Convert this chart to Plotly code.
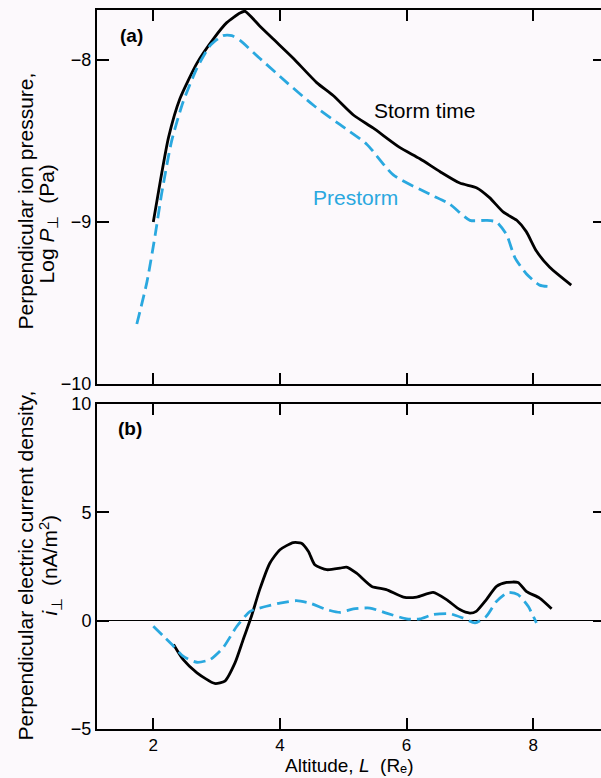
import plotly.graph_objects as go

# (a) perpendicular ion pressure, log10 P (Pa), versus L
storm_a_L = [2.0, 2.11, 2.24, 2.42, 2.69, 2.95, 3.16, 3.37, 3.45, 3.68, 3.89, 4.21, 4.58, 4.84,
             5.16, 5.47, 5.89, 6.21, 6.53, 6.84, 7.11, 7.31, 7.53, 7.74, 7.89, 8.05, 8.26, 8.6]
storm_a_logP = [-9.0, -8.75, -8.48, -8.24, -8.02, -7.87, -7.77, -7.71, -7.70, -7.79, -7.87, -7.99,
                -8.14, -8.22, -8.34, -8.42, -8.54, -8.61, -8.69, -8.76, -8.79, -8.85, -8.94, -8.99,
                -9.06, -9.18, -9.28, -9.39]
pre_a_L = [1.74, 1.9, 2.03, 2.13, 2.29, 2.47, 2.69, 2.9, 3.1, 3.24, 3.37, 3.68, 4.11, 4.53, 4.95,
           5.37, 5.79, 6.37, 6.68, 7.0, 7.26, 7.42, 7.58, 7.71, 7.89, 8.1, 8.29]
pre_a_logP = [-9.63, -9.37, -9.08, -8.83, -8.50, -8.26, -8.05, -7.91, -7.85, -7.85, -7.88, -7.99,
              -8.14, -8.28, -8.40, -8.52, -8.71, -8.83, -8.89, -8.99, -8.99, -9.0, -9.08, -9.22,
              -9.32, -9.39, -9.40]

# (b) perpendicular electric current density (nA/m^2) versus L
storm_b_L = [2.32, 2.47, 2.69, 2.97, 3.13, 3.29, 3.42, 3.55, 3.68, 3.84, 4.0, 4.21, 4.34, 4.45,
             4.55, 4.74, 4.95, 5.05, 5.21, 5.45, 5.68, 5.95, 6.16, 6.42, 6.63, 6.84, 7.0, 7.10,
             7.26, 7.42, 7.58, 7.76, 7.89, 8.10, 8.29]
storm_b_i = [-1.10, -1.79, -2.41, -2.90, -2.79, -1.95, -0.87, 0.2, 1.43, 2.65, 3.27, 3.60, 3.57,
             3.19, 2.58, 2.35, 2.42, 2.47, 2.19, 1.58, 1.43, 1.09, 1.09, 1.30, 0.97, 0.51, 0.35,
             0.43, 0.97, 1.58, 1.76, 1.76, 1.35, 1.04, 0.55]
pre_b_L = [2.0, 2.16, 2.32, 2.47, 2.69, 2.9, 3.1, 3.32, 3.53, 3.74, 4.0, 4.26, 4.47, 4.74, 4.95,
           5.16, 5.42, 5.68, 6.0, 6.21, 6.42, 6.68, 6.89, 7.08, 7.26, 7.42, 7.60, 7.76, 7.92, 8.05]
pre_b_i = [-0.26, -0.72, -1.18, -1.64, -1.92, -1.79, -1.26, -0.26, 0.43, 0.63, 0.81, 0.92, 0.81,
           0.51, 0.38, 0.54, 0.58, 0.35, 0.08, 0.08, 0.28, 0.32, 0.12, -0.1, 0.2, 0.89, 1.30,
           1.20, 0.66, -0.1]

x_ticks = [2, 4, 6, 8]
ya_ticks = [-10, -9, -8]
yb_ticks = [-5, 0, 5, 10]

BLUE = "#2aa8df"
BG = "#fcf9fc"
FONT = "Liberation Sans, Arial, sans-serif"

W, H = 601, 778
L_M, R_M, T_M, B_M = 97, 0, 8, 49
PH = H - T_M - B_M
XR = [1.111, 9.07]
YA = [-10.0, -7.692]
YB = [-5.0, 10.0]

fig = go.Figure()

storm_line = dict(color="black", width=2.8, shape="spline", smoothing=0.6)
pre_line = dict(color=BLUE, width=2.8, dash="12px,6px", shape="spline", smoothing=0.6)

fig.add_trace(go.Scatter(x=storm_a_L, y=storm_a_logP, mode="lines", line=storm_line,
                         xaxis="x", yaxis="y", showlegend=False))
fig.add_trace(go.Scatter(x=pre_a_L, y=pre_a_logP, mode="lines", line=pre_line,
                         xaxis="x", yaxis="y", showlegend=False))
fig.add_trace(go.Scatter(x=storm_b_L, y=storm_b_i, mode="lines", line=storm_line,
                         xaxis="x2", yaxis="y2", showlegend=False))
fig.add_trace(go.Scatter(x=pre_b_L, y=pre_b_i, mode="lines", line=pre_line,
                         xaxis="x2", yaxis="y2", showlegend=False))

dom_a = [(H - B_M - 383) / PH, 1.0]
dom_b = [0.0, (H - B_M - 403) / PH]

xcommon = dict(range=XR, tickvals=x_ticks, ticks="inside", ticklen=11, tickwidth=1.5,
               tickcolor="black", showline=True, linecolor="black", linewidth=2,
               mirror="ticks", showgrid=False, zeroline=False, domain=[0, 1],
               tickfont=dict(family=FONT, size=17, color="black"))
ycommon = dict(ticks="inside", ticklen=12, tickwidth=1.5, tickcolor="black", showline=True,
               linecolor="black", linewidth=2, showgrid=False,
               tickfont=dict(family=FONT, size=18, color="black"))

fig.update_layout(
    width=W, height=H,
    margin=dict(l=L_M, r=R_M, t=T_M, b=B_M),
    paper_bgcolor=BG, plot_bgcolor=BG,
    xaxis=dict(**xcommon, anchor="y", showticklabels=False),
    yaxis=dict(**ycommon, range=YA, tickvals=ya_ticks, domain=dom_a, anchor="x",
               zeroline=False),
    xaxis2=dict(**xcommon, anchor="y2", showticklabels=True),
    yaxis2=dict(**ycommon, range=YB, tickvals=yb_ticks, domain=dom_b, anchor="x2",
                zeroline=True, zerolinecolor="black", zerolinewidth=1.3),
    # right-hand tick marks of both panels
    yaxis3=dict(range=YA, tickvals=ya_ticks, domain=dom_a, anchor="x", overlaying="y",
                side="right", ticks="inside", ticklen=8, tickwidth=1.5, tickcolor="black",
                showticklabels=False, showline=False, showgrid=False, zeroline=False),
    yaxis4=dict(range=YB, tickvals=yb_ticks, domain=dom_b, anchor="x2", overlaying="y2",
                side="right", ticks="inside", ticklen=8, tickwidth=1.5, tickcolor="black",
                showticklabels=False, showline=False, showgrid=False, zeroline=False),
)

fig.add_trace(go.Scatter(x=[None], y=[None], xaxis="x", yaxis="y3", showlegend=False,
                         hoverinfo="skip"))
fig.add_trace(go.Scatter(x=[None], y=[None], xaxis="x2", yaxis="y4", showlegend=False,
                         hoverinfo="skip"))


def px_x(p):
    return (p - L_M) / (W - L_M - R_M)


def px_y(p):
    return (H - B_M - p) / PH


ann = []
txt = dict(family=FONT, size=21, color="black")
centre = dict(xanchor="center", yanchor="middle", showarrow=False)
# panel letters
ann.append(dict(text="<b>(a)</b>", x=px_x(131), y=px_y(34), xref="paper", yref="paper",
                font=dict(family=FONT, size=19, color="black"), **centre))
ann.append(dict(text="<b>(b)</b>", x=px_x(130), y=px_y(428), xref="paper", yref="paper",
                font=dict(family=FONT, size=19, color="black"), **centre))
# curve labels
ann.append(dict(text="Storm time", x=6.29, y=-8.31, xref="x", yref="y", font=txt, **centre))
ann.append(dict(text="Prestorm", x=5.19, y=-8.85, xref="x", yref="y",
                font=dict(family=FONT, size=21, color=BLUE), **centre))
# y-axis titles
ann.append(dict(text="Perpendicular ion pressure,", x=px_x(25), y=px_y(200), xref="paper",
                yref="paper", textangle=-90, font=txt, **centre))
ann.append(dict(text="Log <i>P</i><sub>⊥</sub>  (Pa)", x=px_x(48), y=px_y(223), xref="paper",
                yref="paper", textangle=-90, font=txt, **centre))
ann.append(dict(text="Perpendicular electric current density,", x=px_x(25), y=px_y(565),
                xref="paper", yref="paper", textangle=-90, font=txt, **centre))
ann.append(dict(text="<i>i</i><sub>⊥</sub>  (nA/m<sup>2</sup>)", x=px_x(50), y=px_y(565),
                xref="paper", yref="paper", textangle=-90, font=txt, **centre))
# x-axis title
ann.append(dict(text="Altitude, <i>L</i>  (Rₑ)", x=px_x(349), y=px_y(778),
                xref="paper", yref="paper", xanchor="center", yanchor="bottom",
                showarrow=False, font=dict(family=FONT, size=19, color="black")))
fig.update_layout(annotations=ann)

fig.write_html("out.html")
